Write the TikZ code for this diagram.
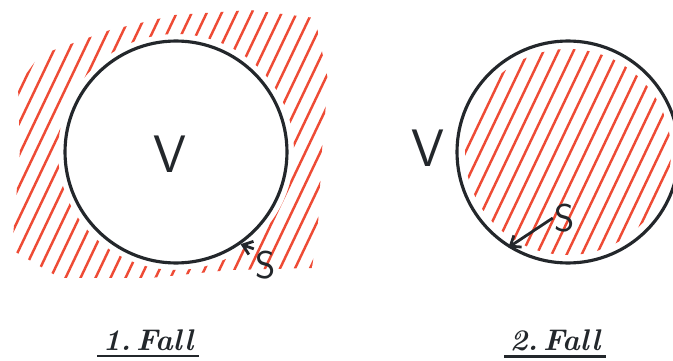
\documentclass[tikz,border=0pt]{standalone}
\usepackage{tikz}
\usetikzlibrary{arrows.meta,positioning,calc}
\usepackage{xcolor}
\definecolor{hred}{HTML}{EE4B35}
\definecolor{pen}{HTML}{23272B}

\begin{document}
\begin{tikzpicture}[x=0.02cm,y=-0.02cm,
    ring/.style={circle,draw=pen,line width=1.8pt,minimum size=4.44cm,inner sep=0pt},
    h/.style={hred,line width=1.4pt,line cap=round},
    lbl/.style={text=pen,inner sep=1pt,font=\sffamily\fontsize{30}{30}\selectfont},
    sl/.style={text=pen,inner sep=1pt,font=\sffamily\fontsize{22}{22}\selectfont},
    fall/.style={text=pen,inner sep=1pt,font=\bfseries\itshape\fontsize{17}{17}\selectfont},
    a/.style={-{Straight Barb[length=1.8mm,width=2.8mm]},line width=1.6pt,pen}]
    \useasboundingbox (0,0) rectangle (673,361);
    % Fall 1: outside hatched
    \begin{scope}[even odd rule]
      \clip (12,250) -- (20,150) -- (18,85) -- (40,55) -- (110,30)
        -- (175,15) -- (250,10) -- (315,18) -- (328,80) -- (322,150) -- (318,225)
        -- (312,268) -- (230,270) -- (150,278) -- (60,278) -- cycle
        (176,152) circle [radius=118];
      \foreach \x in {-170,-155,...,340} \draw[h] (\x,300) -- ++(150,-315);
    \end{scope}
    \node[ring] (c1) at (176,152) {};
    \node[lbl] (v1) at (170,154) {V};
    \node[sl] (s1) at (266,265) {S};
    \draw[a] (s1.north west) -- (c1.-55);
    % Fall 2: inside hatched
    \begin{scope}
      \clip (568,152) circle [radius=103];
      \foreach \x in {320,335,...,760} \draw[h] (\x,300) -- ++(150,-315);
    \end{scope}
    \node[ring] (c2) at (568,152) {};
    \node[lbl] (v2) at (428,148) {V};
    \node[sl] (s2) at (565,218) {S};
    \draw[a] (s2.west) -- (c2.-122);
    % captions
    \node[fall] (f1) at (148,340) {1.\,Fall};
    \draw[pen,line width=1.5pt] ([xshift=-2pt,yshift=-2pt]f1.south west) -- ([xshift=2pt,yshift=-2pt]f1.south east);
    \node[fall] (f2) at (555,340) {2.\,Fall};
    \draw[pen,line width=1.5pt] ([xshift=-2pt,yshift=-2pt]f2.south west) -- ([xshift=2pt,yshift=-2pt]f2.south east);
\end{tikzpicture}
\end{document}
